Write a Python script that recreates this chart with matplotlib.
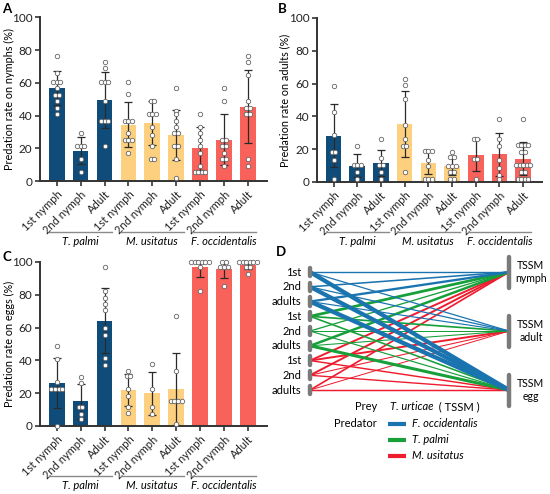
"""Predation rates of three thrips predators on TSSM stages (panels A-C) + link diagram (D)."""
import numpy as np
import matplotlib; matplotlib.use("Agg")
import matplotlib.pyplot as plt
from matplotlib.transforms import blended_transform_factory

plt.rcParams['font.family'] = ['Lato', 'DejaVu Sans']

stages = ["1st nymph", "2nd nymph", "Adult"]
predators = ["T. palmi", "M. usitatus", "F. occidentalis"]

# bar order: T. palmi x3, M. usitatus x3, F. occidentalis x3
nymph_mean = [56.8, 18.5, 49.6, 34.5, 35.3, 28.1, 19.9, 25.2, 45.5]
nymph_sd = [10.2, 8.2, 17.1, 13.5, 13.5, 15.4, 13.3, 15.6, 22.2]
nymph_pts = [
    [76.5, 66, 60.5, 60.5, 60.5, 56.8, 52.7, 52.7, 48.6, 44.5, 41],
    [29.1, 21.1, 21.1, 21.1, 13.7, 5.5],
    [72.4, 69.1, 60.5, 60.5, 60.5, 48.6, 36.9, 36.9, 36.9, 21.1],
    [60.5, 52.9, 36.9, 36.9, 36.9, 29.1, 25.2, 25.2, 25.2, 17.4],
    [48.8, 48.8, 41, 41, 41, 33.2, 28.1, 21.5, 13.5, 13.5],
    [56.8, 43, 41, 36.9, 33.2, 29.1, 29.1, 21.1, 21.1, 13.5, 1.6],
    [41, 33.2, 29.1, 25.2, 21.1, 17.4, 9.2, 5.7, 5.7, 5.7, 5.7],
    [56.8, 48.6, 25.2, 25.2, 21.1, 21.1, 17.4, 13.5, 13.5, 9.4],
    [76.5, 72.4, 64.6, 48.6, 44.5, 44.5, 41, 41, 13.5, 9.4],
]

adult_mean = [28.2, 9.9, 11.6, 35.2, 11.8, 9.9, 16.6, 16.8, 14.3]
adult_sd = [19.2, 6.9, 8.2, 20.0, 6.9, 5.7, 9.9, 13.1, 10.3]
adult_pts = [
    [58.7, 42.5, 28.4, 18.3, 18.3, 13.7, 1.9],
    [22.1, 10.5, 10.5, 10.5, 6.3, 1.9],
    [26.1, 14.5, 10.5, 10.5, 6.3, 1.9],
    [62.5, 59.4, 50.3, 34.7, 26.1, 22.1, 22.1, 6.3],
    [18.7, 18.7, 18.7, 13.7, 9.9, 1.9, 1.9, 1.9],
    [18.3, 15.2, 15.2, 9.9, 9.9, 9.9, 6.3, 6.3, 1.9, 1.9],
    [26.5, 26.5, 14.1, 14.1, 1.9],
    [38.3, 26.5, 22.1, 13.7, 8.4, 4.2, 1.9],
    [38.3, 22.5, 22.5, 22.5, 22.5, 18.3, 18.3, 10.3, 10.3, 10.3, 10.3, 10.3,
     6.1, 6.1, 1.9, 1.9, 1.9, 1.9],
]

egg_mean = [26.2, 15.0, 64.1, 21.9, 19.9, 22.7, 96.9, 95.9, 98.4]
egg_sd = [15.4, 10.6, 19.8, 10.0, 13.2, 22.0, 6.0, 5.5, 2.5]
egg_pts = [
    [48.6, 41, 26.6, 22.5, 22.5, 22.5, 22.5, 0],
    [29.9, 26.2, 11.3, 11.3, 7.2, 4.1],
    [96.7, 82, 78.3, 74.4, 70.7, 59.8, 55.7, 41.4, 37.3],
    [33.8, 30.3, 30.3, 22.5, 18.4, 11.3, 7.8],
    [37.5, 22.5, 11.3, 7.6],
    [67.2, 33.6, 15.2, 15.2, 15.2, 15.2, 1],
    [100, 100, 100, 100, 100, 100, 96.9, 82],
    [100, 100, 96.7, 96.7, 96.7, 85.4],
    [100, 100, 100, 100, 100, 100, 96.7, 96.7, 92.8],
]

bar_cols = ["#0f4c7a", "#fcd07e", "#f9625b"]
link_cols = {"F. occidentalis": "#1a74b0", "T. palmi": "#17a03a", "M. usitatus": "#ee1c2e"}
d_order = ["F. occidentalis", "T. palmi", "M. usitatus"]
d_stage = ["1st", "2nd", "adults"]
prey_nodes = ["TSSM\nnymph", "TSSM\nadult", "TSSM\negg"]


def swarm(vals, step=0.15, tol=1.2):
    rows = []
    for v in sorted(vals, reverse=True):
        if rows and abs(rows[-1][0] - v) < tol:
            rows[-1].append(v)
        else:
            rows.append([v])
    xs, ys = [], []
    for r in rows:
        n = len(r)
        xs += list((np.arange(n) - (n - 1) / 2) * step)
        ys += r
    return np.array(xs), np.array(ys)


def bar_panel(ax, means, sds, pts, ylabel, gline, gtext, labx):
    means = np.array(means); sds = np.array(sds)
    x = np.arange(9)
    ax.bar(x, means, width=0.66, color=[bar_cols[i // 3] for i in x], zorder=1)
    up = np.minimum(sds, 100 - means)
    ax.errorbar(x, means, yerr=[sds, up], fmt="none", ecolor="#2a2a2a",
                elinewidth=0.9, capsize=2.8, capthick=0.9, zorder=2)
    for i, p in enumerate(pts):
        dx, ys = swarm(p)
        ax.plot(i + dx, ys, "o", ms=3.2, mfc="white", mec="#666", mew=0.6,
                zorder=3, clip_on=False)
    ax.set_xlim(-0.7, 8.8); ax.set_ylim(0, 100)
    ax.set_yticks(range(0, 101, 20))
    ax.set_xticks(x)
    ax.set_xticklabels(stages * 3, rotation=45, ha="right", rotation_mode="anchor", fontsize=8)
    ax.set_ylabel(ylabel, fontsize=7.8)
    ax.yaxis.set_label_coords(labx, 0.5)
    ax.tick_params(axis="y", labelsize=8.5, length=3.5, width=1.1, pad=2, colors="#222")
    ax.tick_params(axis="x", length=3.5, width=1.1, pad=2, colors="#222")
    for s in ["top", "right"]:
        ax.spines[s].set_visible(False)
    for s in ["left", "bottom"]:
        ax.spines[s].set_linewidth(1.4); ax.spines[s].set_color("#333")
    tr = blended_transform_factory(ax.transData, ax.transAxes)
    for g, name in enumerate(predators):
        ax.plot([3 * g - 0.33, 3 * g + 2.33], [gline, gline], transform=tr,
                clip_on=False, color="#8a8a8a", lw=1.0)
        ax.text(3 * g + 1, gtext, name, transform=tr, ha="center", va="center",
                style="italic", fontsize=8)


fig = plt.figure(figsize=(5.5, 4.94), dpi=100)
axA = fig.add_axes([0.0727, 0.6336, 0.4128, 0.3314])
axB = fig.add_axes([0.5764, 0.6316, 0.4091, 0.332])
axC = fig.add_axes([0.0727, 0.1377, 0.4128, 0.332])
axD = fig.add_axes([0.5, 0.0, 0.5, 0.5])

bar_panel(axA, nymph_mean, nymph_sd, nymph_pts, "Predation rate on nymphs (%)", -0.31, -0.37, -0.11)
bar_panel(axB, adult_mean, adult_sd, adult_pts, "Predation rate on adults (%)", -0.305, -0.36, -0.12)
bar_panel(axC, egg_mean, egg_sd, egg_pts, "Predation rate on eggs (%)", -0.305, -0.36, -0.11)

# panel D: links from predator stage to prey stage, width ~ predation rate
rates = [nymph_mean, adult_mean, egg_mean]
right_y = [0, 4, 8]
for p in reversed(range(3)):
    pi = predators.index(d_order[p])
    for s in range(3):
        k = 3 * p + s
        for t in range(3):
            v = rates[t][3 * pi + s]
            axD.plot([0, 1], [k, right_y[t]], color=link_cols[d_order[p]],
                     lw=0.45 + v * 0.027, solid_capstyle="butt", zorder=2)
for p in range(3):
    for s in range(3):
        k = 3 * p + s
        axD.plot([0, 0], [k - 0.28, k + 0.28], color="#7a7a7a", lw=3.2,
                 solid_capstyle="round", zorder=5)
        axD.text(-0.045, k, d_stage[s], ha="right", va="center", fontsize=8)
for t, y in enumerate(right_y):
    axD.plot([1, 1], [y - 1.05, y + 1.05], color="#7a7a7a", lw=3.2,
             solid_capstyle="round", zorder=5)
    axD.text(1.11, y, prey_nodes[t], ha="center", va="center", fontsize=7.6,
             linespacing=1.3)

axD.text(0.337, 9.15, "Prey", ha="right", va="center", fontsize=8)
t1 = axD.text(0.40, 9.15, "T. urticae", ha="left", va="center", fontsize=8, style="italic")
axD.annotate("  ( TSSM )", xy=(1, 0.5), xycoords=t1, ha="left", va="center", fontsize=8)
axD.text(0.337, 10.3, "Predator", ha="right", va="center", fontsize=8)
for i, name in enumerate(d_order):
    y = 10.3 + 1.08 * i
    axD.plot([0.39, 0.48], [y, y], color=link_cols[name], lw=3.0, solid_capstyle="butt")
    axD.text(0.51, y, name, ha="left", va="center", fontsize=8, style="italic")

axD.set_xlim(-0.176, 1.206)
axD.set_ylim(15.05, -1.7)
axD.axis("off")

for lab, (fx, fy) in zip("ABCD", [(0.0127, 0.982), (0.513, 0.982), (0.0127, 0.48), (0.511, 0.49)]):
    fig.text(fx, fy, lab, fontsize=9.5, weight="bold", ha="center", va="center")

fig.savefig("out.png", dpi=100)
